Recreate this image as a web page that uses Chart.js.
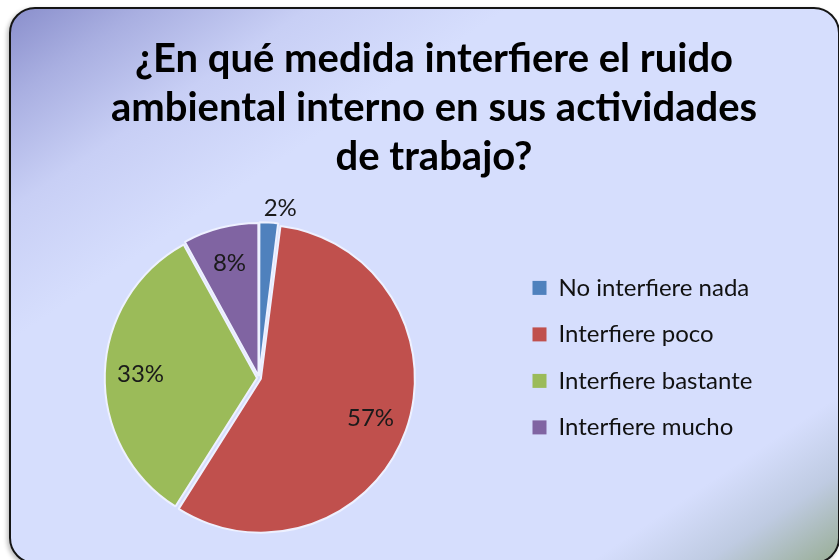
<!DOCTYPE html>
<html lang="es">
<head>
<meta charset="utf-8">
<title>Ruido ambiental interno</title>
<script src="https://cdn.jsdelivr.net/npm/chart.js@4.4.1/dist/chart.umd.min.js"></script>
<style>
  html, body { margin: 0; padding: 0; background: #fff; overflow: hidden; }
  body { width: 839px; height: 560px; position: relative; }
  #panel {
    position: absolute; left: 9px; top: 7px; width: 831px; height: 557px;
    box-sizing: border-box; border: 2px solid #151515; border-radius: 26px;
    background: linear-gradient(to bottom right,
      #8a8fcc 0%, #a9afe1 8%, #c8cff5 18%, #d6defd 30%,
      #d6defd 85%, #bfcbe2 92%, #98ad94 100%);
    box-shadow: -2px 2px 4px rgba(0,0,0,.25);
  }
  #chart { position: absolute; left: 0; top: 0; }
</style>
</head>
<body>
<div id="panel"></div>
<canvas id="chart" width="860" height="560"></canvas>
<script>
// datos
const categories = ['No interfiere nada', 'Interfiere poco', 'Interfiere bastante', 'Interfiere mucho'];
const percentages = [2, 57, 33, 8];
const titleLines = ['¿En qué medida interfiere el ruido', 'ambiental interno en sus actividades', 'de trabajo?'];
const sliceColors = ['#4f81bd', '#c0504d', '#9bbb59', '#8064a2'];

// ancho fijo de la leyenda: así el título queda centrado como en el original
const legendWidth = {
    id: 'legendWidth',
    beforeInit(chart) {
        const fit = chart.legend.fit;
        chart.legend.fit = function () {
            fit.call(this);
            this.width = 350;
        };
    }
};

// etiquetas de porcentaje sobre cada porción
const sliceLabels = {
    id: 'sliceLabels',
    afterDatasetsDraw(chart) {
        const ctx = chart.ctx;
        const meta = chart.getDatasetMeta(0);
        const total = percentages.reduce((a, b) => a + b, 0);
        ctx.save();
        ctx.font = '24px Lato';
        ctx.fillStyle = '#1a1a1a';
        ctx.textBaseline = 'middle';
        meta.data.forEach((arc, i) => {
            const p = arc.getProps(['x', 'y', 'startAngle', 'endAngle', 'outerRadius'], true);
            const mid = (p.startAngle + p.endAngle) / 2;
            const share = percentages[i] / total;
            let r = p.outerRadius * 0.78;
            let align = 'center';
            if (share < 0.05) { r = p.outerRadius + 18; align = 'left'; }
            const px = p.x + Math.cos(mid) * r;
            const py = p.y + Math.sin(mid) * r;
            ctx.textAlign = align;
            ctx.fillText(Math.round(share * 100) + '%', align === 'left' ? px - 6 : px, py);
        });
        ctx.restore();
    }
};

new Chart(document.getElementById('chart'), {
    type: 'pie',
    data: {
        labels: categories,
        datasets: [{
            data: percentages,
            backgroundColor: sliceColors,
            borderColor: '#eef1ff',
            borderWidth: 2,
            offset: 8,
            radius: 152
        }]
    },
    options: {
        responsive: false,
        animation: false,
        events: [],
        layout: { padding: { left: 8, right: 0, top: 0, bottom: 0 } },
        plugins: {
            title: {
                display: true,
                text: titleLines,
                color: '#000',
                font: { family: 'Lato', size: 40, weight: 'bold', lineHeight: 1.225 },
                padding: { top: 35, bottom: 14 }
            },
            legend: {
                position: 'right',
                align: 'start',
                fullSize: false,
                title: { display: true, text: '', padding: { top: 0, bottom: 43 } },
                labels: {
                    boxWidth: 14,
                    boxHeight: 14,
                    padding: 22.5,
                    color: '#111',
                    font: { family: 'Lato', size: 24 },
                    generateLabels(chart) {
                        const items = Chart.overrides.pie.plugins.legend.labels.generateLabels(chart);
                        return items.map(it => Object.assign(it, { lineWidth: 0 }));
                    }
                }
            },
            tooltip: { enabled: false }
        }
    },
    plugins: [legendWidth, sliceLabels]
});
</script>
</body>
</html>
